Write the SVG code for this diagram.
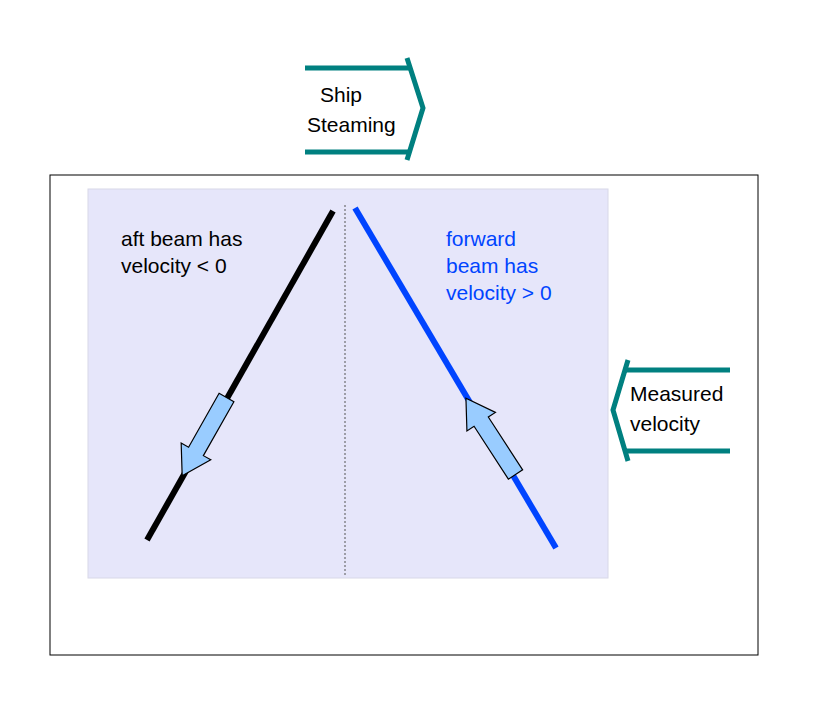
<svg xmlns="http://www.w3.org/2000/svg" width="816" height="720" viewBox="0 0 816 720">
<style>
text{font-family:"Liberation Sans",Arial,sans-serif;font-size:21px}
.teal{fill:none;stroke:#008080;stroke-width:5}
.arr{fill:#99ccff;stroke:#000;stroke-width:1.2}
</style>
<rect width="816" height="720" fill="#fff"/>
<g id="frame"><rect x="50" y="175" width="708" height="480" fill="#fff" stroke="#000" stroke-width="1"/></g>
<g id="panel"><rect x="88" y="189" width="520" height="389" fill="#e6e6fa" stroke="#d8d8e8"/></g>
<g id="connectors">
<line x1="345" y1="205" x2="345" y2="576" stroke="#555" stroke-width="1" stroke-dasharray="2,2"/>
<line x1="333" y1="211" x2="147" y2="540" stroke="#000" stroke-width="6"/>
<line x1="355" y1="208" x2="556" y2="548" stroke="#0044ff" stroke-width="6"/>
</g>
<g id="aft-arrow"><polygon class="arr" transform="translate(226.5,397.5) rotate(119.5)" points="0,-8.5 62,-8.5 62,-17 90,0 62,17 62,8.5 0,8.5"/></g>
<g id="fwd-arrow"><polygon class="arr" transform="translate(515.5,474.5) rotate(-123)" points="0,-8.5 63,-8.5 63,-17 91,0 63,17 63,8.5 0,8.5"/></g>
<g id="aft-label"><text x="121" y="246">aft beam has</text><text x="121" y="273">velocity &lt; 0</text></g>
<g id="fwd-label" fill="#0044ff"><text x="446" y="246" fill="#0044ff">forward</text><text x="446" y="273" fill="#0044ff">beam has</text><text x="446" y="300" fill="#0044ff">velocity &gt; 0</text></g>
<g id="ship">
<polyline class="teal" points="305,68 410,68"/>
<polyline class="teal" points="305,152 410,152"/>
<polyline class="teal" points="407,58 423,108 407,160"/>
<text x="320" y="102">Ship</text><text x="307" y="132">Steaming</text>
</g>
<g id="measured">
<polyline class="teal" points="730,370 625,370"/>
<polyline class="teal" points="730,451 625,451"/>
<polyline class="teal" points="628,360 613,410 628,461"/>
<text x="630" y="401">Measured</text><text x="630" y="431">velocity</text>
</g>
</svg>
